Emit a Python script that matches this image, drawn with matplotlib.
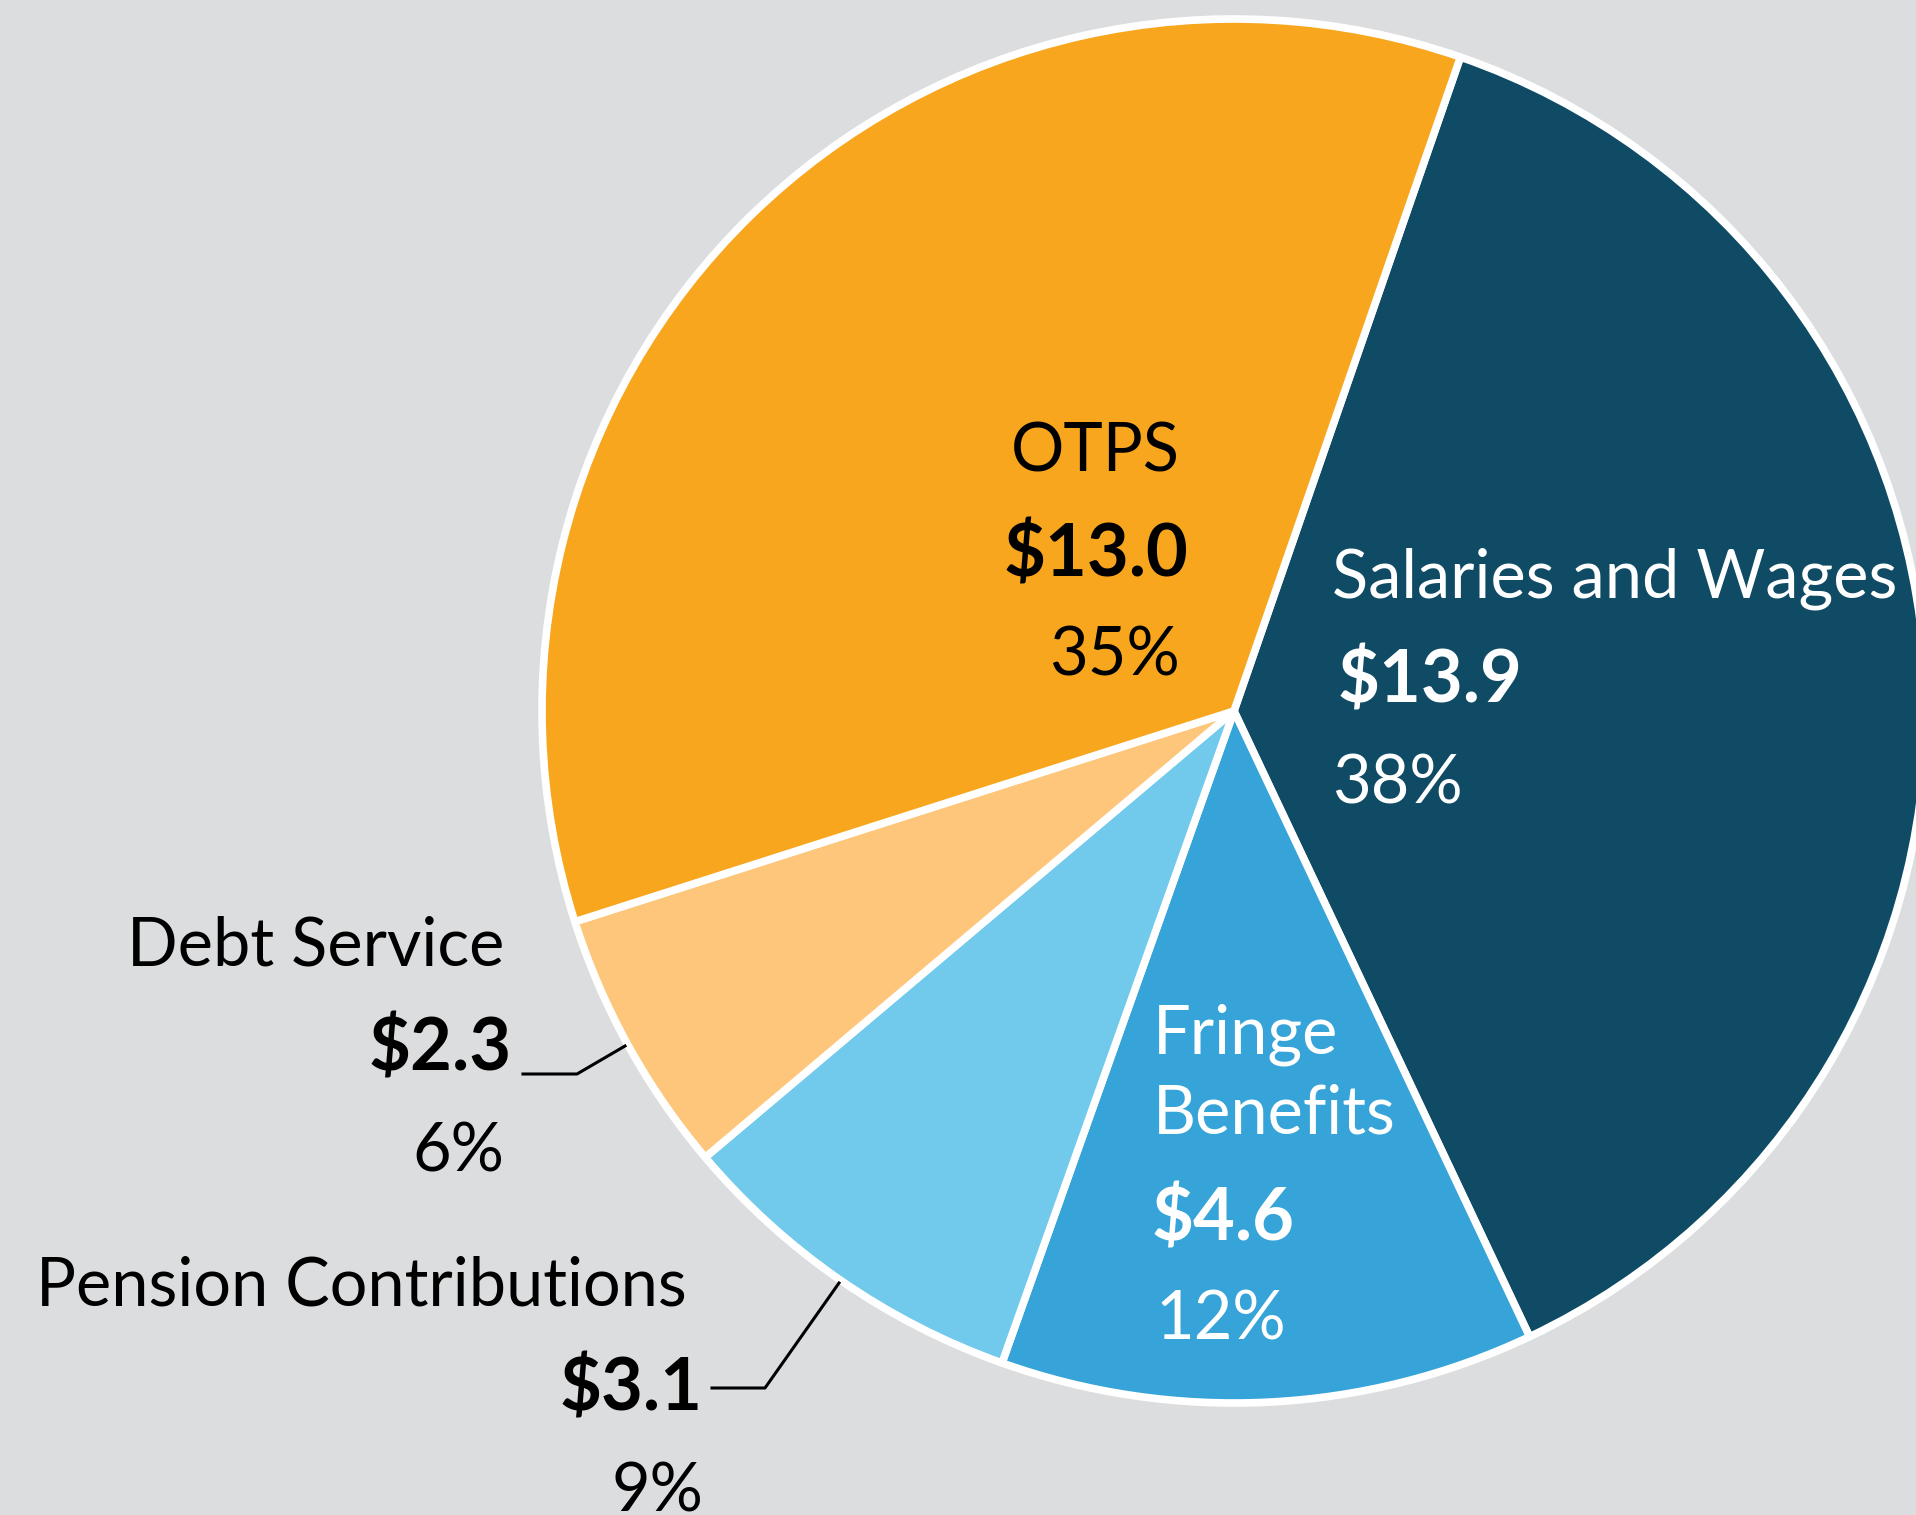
import matplotlib
matplotlib.use("Agg")
import matplotlib.pyplot as plt

plt.rcParams['font.family'] = ['Lato', 'DejaVu Sans']

# 数据 (十亿美元)
labels = ['Salaries and Wages', 'Fringe Benefits', 'Pension Contributions', 'Debt Service', 'OTPS']
values = [13.9, 4.6, 3.1, 2.3, 13.0]
pcts = ['38%', '12%', '9%', '6%', '35%']
colors = ['#0F4B64', '#36A4D8', '#71CAEC', '#FDC67B', '#F7A61E']

W, H = 1916, 1515
BG = '#DCDDDF'


def fy(y):
    # 图片坐标(向下) -> 数据坐标(向上)
    return H - y


fig = plt.figure(figsize=(W / 100, H / 100), dpi=100, facecolor=BG)
ax = fig.add_axes([0, 0, 1, 1])
ax.set_facecolor(BG)

ax.pie(values, colors=colors, startangle=70.9, counterclock=False,
       center=(1234, fy(711)), radius=692,
       wedgeprops=dict(edgecolor='white', linewidth=5.5, joinstyle='round'))

ax.set_xlim(0, W)
ax.set_ylim(0, H)
ax.set_aspect('equal')
ax.axis('off')

name_fs = 48
val_fs = 52


def block(x, ys, names, value, pct, ha, color):
    # names 可以有多行, ys 前面几个对应名字的每一行
    for i, nm in enumerate(names):
        ax.text(x[0], fy(ys[i]), nm, ha=ha, va='baseline', fontsize=name_fs, color=color)
    ax.text(x[1], fy(ys[-2]), '$%.1f' % value, ha=ha, va='baseline', fontsize=val_fs,
            fontweight='bold', color=color)
    ax.text(x[2], fy(ys[-1]), pct, ha=ha, va='baseline', fontsize=name_fs, color=color)


# OTPS
block((1180, 1188, 1180), (471, 577, 675), [labels[4]], values[4], pcts[4], 'right', 'black')
# Salaries and Wages
block((1332, 1338, 1332), (598, 703, 803), [labels[0]], values[0], pcts[0], 'left', 'white')
# Fringe Benefits
block((1153, 1152, 1155), (1054, 1134, 1240, 1340), labels[1].split(' '), values[1], pcts[1], 'left', 'white')
# Debt Service
block((504, 512, 504), (966, 1071, 1171), [labels[3]], values[3], pcts[3], 'right', 'black')
# Pension Contributions
block((687, 703, 703), (1305, 1411, 1512), [labels[2]], values[2], pcts[2], 'right', 'black')

# 引线
ax.plot([523, 577, 625], [fy(1074), fy(1074), fy(1046)], color='black', lw=2.2)
ax.plot([712, 765, 839], [fy(1388), fy(1388), fy(1283)], color='black', lw=2.2)

fig.savefig('out.png', dpi=100, facecolor=BG)
